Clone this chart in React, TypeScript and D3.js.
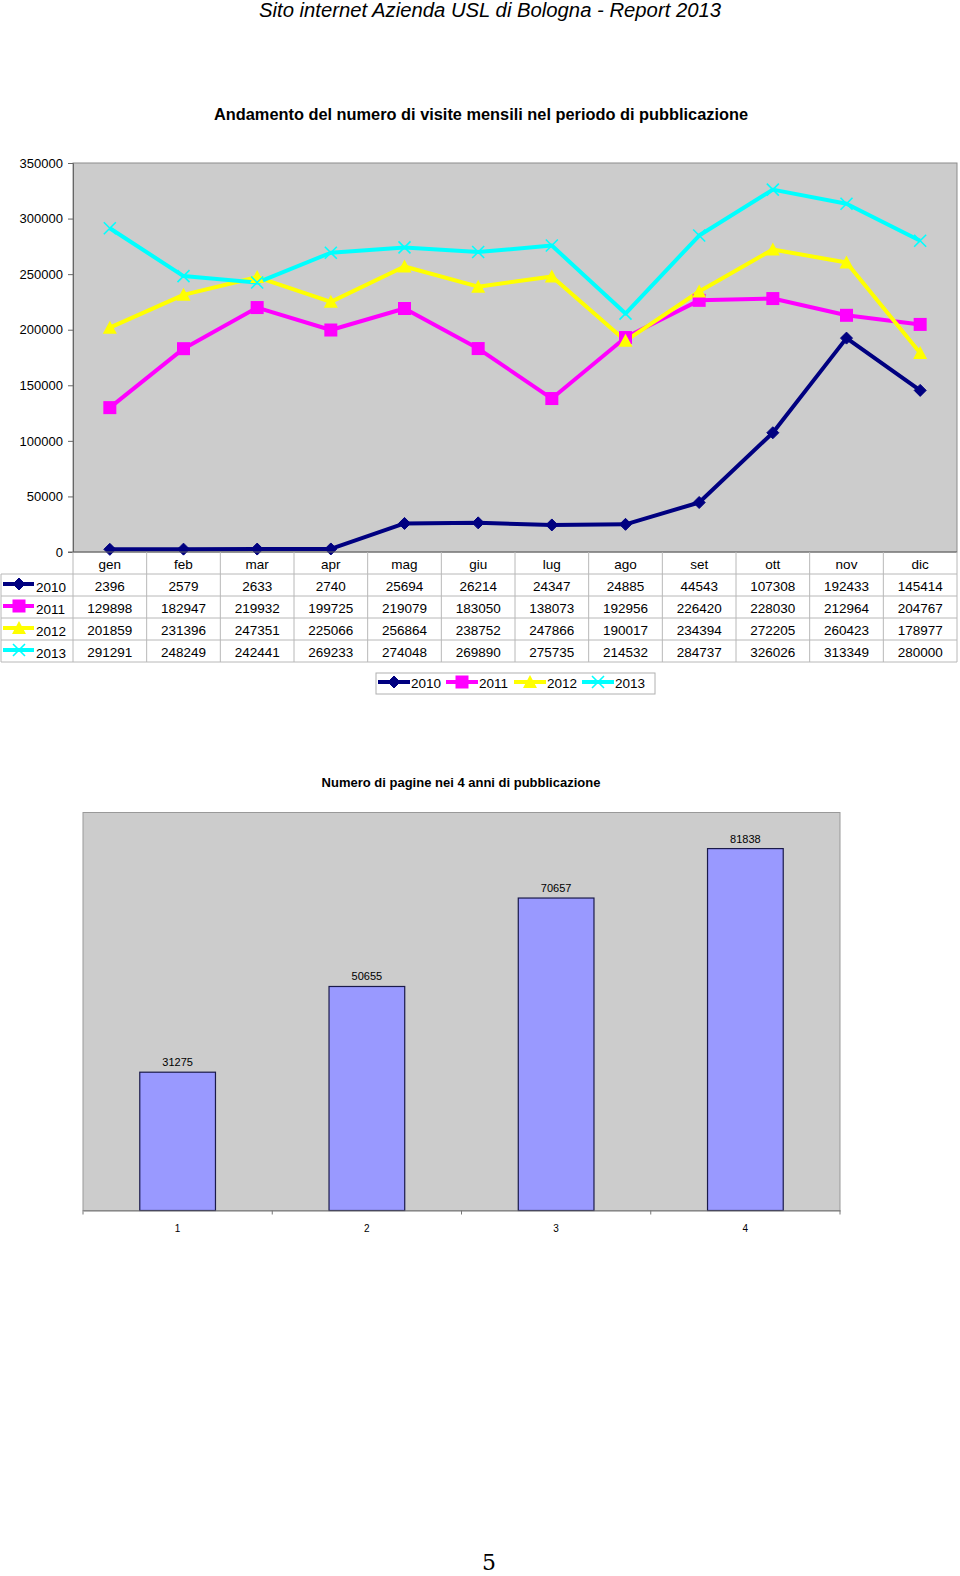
import { useRef, useEffect } from "react";
import * as d3 from "d3";

const months = ["gen", "feb", "mar", "apr", "mag", "giu", "lug", "ago", "set", "ott", "nov", "dic"];
const years = ["2010", "2011", "2012", "2013"];
const visits2010 = [2396, 2579, 2633, 2740, 25694, 26214, 24347, 24885, 44543, 107308, 192433, 145414];
const visits2011 = [129898, 182947, 219932, 199725, 219079, 183050, 138073, 192956, 226420, 228030, 212964, 204767];
const visits2012 = [201859, 231396, 247351, 225066, 256864, 238752, 247866, 190017, 234394, 272205, 260423, 178977];
const visits2013 = [291291, 248249, 242441, 269233, 274048, 269890, 275735, 214532, 284737, 326026, 313349, 280000];
const yTicks = [0, 50000, 100000, 150000, 200000, 250000, 300000, 350000];

const barCats = ["1", "2", "3", "4"];
const pages = [31275, 50655, 70657, 81838];

const colors = ["#000080", "#ff00ff", "#ffff00", "#00ffff"];
const markers = ["diamond", "square", "triangle", "x"];

const FONT = "Liberation Sans, Arial, sans-serif";

function drawMarker(g: any, kind: string, x: number, y: number, color: string) {
  if (kind === "diamond") {
    g.append("path")
      .attr("d", `M${x},${y - 6}L${x + 6},${y}L${x},${y + 6}L${x - 6},${y}Z`)
      .attr("fill", color)
      .attr("stroke", color);
  } else if (kind === "square") {
    g.append("rect")
      .attr("x", x - 6.5)
      .attr("y", y - 6.5)
      .attr("width", 13)
      .attr("height", 13)
      .attr("fill", color);
  } else if (kind === "triangle") {
    g.append("path")
      .attr("d", `M${x},${y - 7}L${x + 7},${y + 6}L${x - 7},${y + 6}Z`)
      .attr("fill", color);
  } else {
    g.append("path")
      .attr("d", `M${x - 6},${y - 6}L${x + 6},${y + 6}M${x - 6},${y + 6}L${x + 6},${y - 6}`)
      .attr("stroke", color)
      .attr("stroke-width", 1.6);
  }
}

export default function App() {
  const svgRef = useRef<SVGSVGElement>(null);

  useEffect(() => {
    if (!svgRef.current) return;
    const svg = d3.select(svgRef.current);
    svg.selectAll("*").remove();

    // header
    svg.append("text")
      .attr("x", 490).attr("y", 17)
      .attr("text-anchor", "middle")
      .attr("font-family", FONT)
      .attr("font-style", "italic")
      .attr("font-size", 20)
      .attr("textLength", 462)
      .attr("lengthAdjust", "spacingAndGlyphs")
      .attr("fill", "#000")
      .text("Sito internet Azienda USL di Bologna - Report 2013");

    svg.append("text")
      .attr("x", 481).attr("y", 120)
      .attr("text-anchor", "middle")
      .attr("font-family", FONT)
      .attr("font-weight", "bold")
      .attr("font-size", 17)
      .attr("textLength", 534)
      .attr("lengthAdjust", "spacingAndGlyphs")
      .text("Andamento del numero di visite mensili nel periodo di pubblicazione");

    // ---- line chart ----
    const left = 73, right = 957, top = 163, bottom = 552;
    const x = d3.scaleBand().domain(months).range([left, right]);
    const y = d3.scaleLinear().domain([0, 350000]).range([bottom, top]);

    svg.append("rect")
      .attr("x", left).attr("y", top)
      .attr("width", right - left).attr("height", bottom - top)
      .attr("fill", "#cccccc")
      .attr("stroke", "#8c8c8c");

    const yAxis = svg.append("g")
      .attr("transform", `translate(${left},0)`)
      .call(d3.axisLeft(y).tickValues(yTicks).tickSize(5).tickPadding(5).tickFormat(d3.format("d")));
    yAxis.select(".domain").attr("stroke", "#666");
    yAxis.selectAll(".tick line").attr("stroke", "#666");
    yAxis.selectAll("text")
      .attr("font-family", FONT).attr("font-size", 13).attr("fill", "#000");

    const series = [visits2010, visits2011, visits2012, visits2013];
    const cx = (m: string) => (x(m) ?? 0) + x.bandwidth() / 2;
    const line = d3.line<number>()
      .x((_, i) => cx(months[i]))
      .y((d) => y(d));

    const plot = svg.append("g");
    series.forEach((vals, si) => {
      plot.append("path")
        .attr("d", line(vals))
        .attr("fill", "none")
        .attr("stroke", colors[si])
        .attr("stroke-width", 4)
        .attr("stroke-linejoin", "round");
    });
    series.forEach((vals, si) => {
      vals.forEach((v, i) => drawMarker(plot, markers[si], cx(months[i]), y(v), colors[si]));
    });
    svg.append("line")
      .attr("x1", left - 5).attr("x2", right)
      .attr("y1", bottom).attr("y2", bottom)
      .attr("stroke", "#666");

    // ---- data table ----
    const rowY = d3.scaleBand().domain(["h", ...years]).range([bottom, 662]);
    const grid = "#b8b8b8";
    const tbl = svg.append("g");
    ["h", ...years].forEach((r) => {
      const yy = (rowY(r) ?? 0) + rowY.bandwidth();
      tbl.append("line")
        .attr("x1", 1).attr("x2", right)
        .attr("y1", yy).attr("y2", yy)
        .attr("stroke", grid);
    });
    months.forEach((m) => {
      tbl.append("line")
        .attr("x1", x(m) ?? 0).attr("x2", x(m) ?? 0)
        .attr("y1", bottom).attr("y2", 662)
        .attr("stroke", grid);
    });
    tbl.append("line").attr("x1", right).attr("x2", right).attr("y1", bottom).attr("y2", 662).attr("stroke", grid);
    tbl.append("line").attr("x1", 1).attr("x2", 1).attr("y1", (rowY(years[0]) ?? 0)).attr("y2", 662).attr("stroke", grid);

    months.forEach((m) => {
      tbl.append("text")
        .attr("x", cx(m)).attr("y", (rowY("h") ?? 0) + rowY.bandwidth() / 2 + 6)
        .attr("text-anchor", "middle")
        .attr("font-family", FONT).attr("font-size", 13.5)
        .text(m);
    });
    years.forEach((yr, si) => {
      const ry = (rowY(yr) ?? 0) + rowY.bandwidth() / 2;
      tbl.append("line")
        .attr("x1", 3).attr("x2", 34).attr("y1", ry - 1).attr("y2", ry - 1)
        .attr("stroke", colors[si]).attr("stroke-width", 4);
      drawMarker(tbl, markers[si], 19, ry - 1, colors[si]);
      tbl.append("text")
        .attr("x", 36).attr("y", ry + 7)
        .attr("font-family", FONT).attr("font-size", 13.5)
        .text(yr);
      series[si].forEach((v, i) => {
        tbl.append("text")
          .attr("x", cx(months[i])).attr("y", ry + 6)
          .attr("text-anchor", "middle")
          .attr("font-family", FONT).attr("font-size", 13.5)
          .text(String(v));
      });
    });

    // legend
    const leg = svg.append("g");
    leg.append("rect")
      .attr("x", 376).attr("y", 673).attr("width", 279).attr("height", 21)
      .attr("fill", "#fff").attr("stroke", "#b0b0b0");
    const legX = d3.scaleBand().domain(years).range([378, 650]);
    years.forEach((yr, si) => {
      const lx = legX(yr) ?? 0;
      leg.append("line")
        .attr("x1", lx).attr("x2", lx + 32).attr("y1", 682).attr("y2", 682)
        .attr("stroke", colors[si]).attr("stroke-width", 4);
      drawMarker(leg, markers[si], lx + 16, 682, colors[si]);
      leg.append("text")
        .attr("x", lx + 33).attr("y", 688)
        .attr("font-family", FONT).attr("font-size", 13.5)
        .text(yr);
    });

    // ---- bar chart ----
    svg.append("text")
      .attr("x", 461).attr("y", 787)
      .attr("text-anchor", "middle")
      .attr("font-family", FONT).attr("font-weight", "bold").attr("font-size", 13)
      .text("Numero di pagine nei 4 anni di pubblicazione");

    const bl = 83, br = 840, bt = 812.5, bb = 1210.5;
    const bx = d3.scaleBand().domain(barCats).range([bl, br]).paddingInner(0.6).paddingOuter(0.3);
    const bxTick = d3.scaleBand().domain(barCats).range([bl, br]);
    const by = d3.scaleLinear().domain([0, 90000]).range([bb, bt]);

    svg.append("rect")
      .attr("x", bl).attr("y", bt).attr("width", br - bl).attr("height", bb - bt)
      .attr("fill", "#cccccc").attr("stroke", "#999");

    pages.forEach((v, i) => {
      const c = barCats[i];
      svg.append("rect")
        .attr("x", bx(c) ?? 0).attr("y", by(v))
        .attr("width", bx.bandwidth()).attr("height", bb - by(v))
        .attr("fill", "#9999ff").attr("stroke", "#1a1a4a").attr("stroke-width", 1.2);
      svg.append("text")
        .attr("x", (bx(c) ?? 0) + bx.bandwidth() / 2).attr("y", by(v) - 6)
        .attr("text-anchor", "middle")
        .attr("font-family", FONT).attr("font-size", 11)
        .text(String(v));
    });

    const xAxis = svg.append("g")
      .attr("transform", `translate(0,${bb})`)
      .call(d3.axisBottom(bxTick).tickSize(0).tickPadding(14));
    xAxis.select(".domain").attr("stroke", "#777");
    xAxis.selectAll("text").attr("font-family", FONT).attr("font-size", 10).attr("fill", "#000");
    [...barCats.map((c) => bxTick(c) ?? 0), br].forEach((tx) => {
      svg.append("line")
        .attr("x1", tx).attr("x2", tx).attr("y1", bb).attr("y2", bb + 4)
        .attr("stroke", "#777");
    });

    // page number
    svg.append("text")
      .attr("x", 489).attr("y", 1570)
      .attr("text-anchor", "middle")
      .attr("font-family", "DejaVu Serif, serif").attr("font-size", 22)
      .text("5");
  }, []);

  return (
    <svg
      ref={svgRef}
      width={960}
      height={1576}
      style={{ position: "absolute", left: 0, top: 0, background: "#fff" }}
    />
  );
}
